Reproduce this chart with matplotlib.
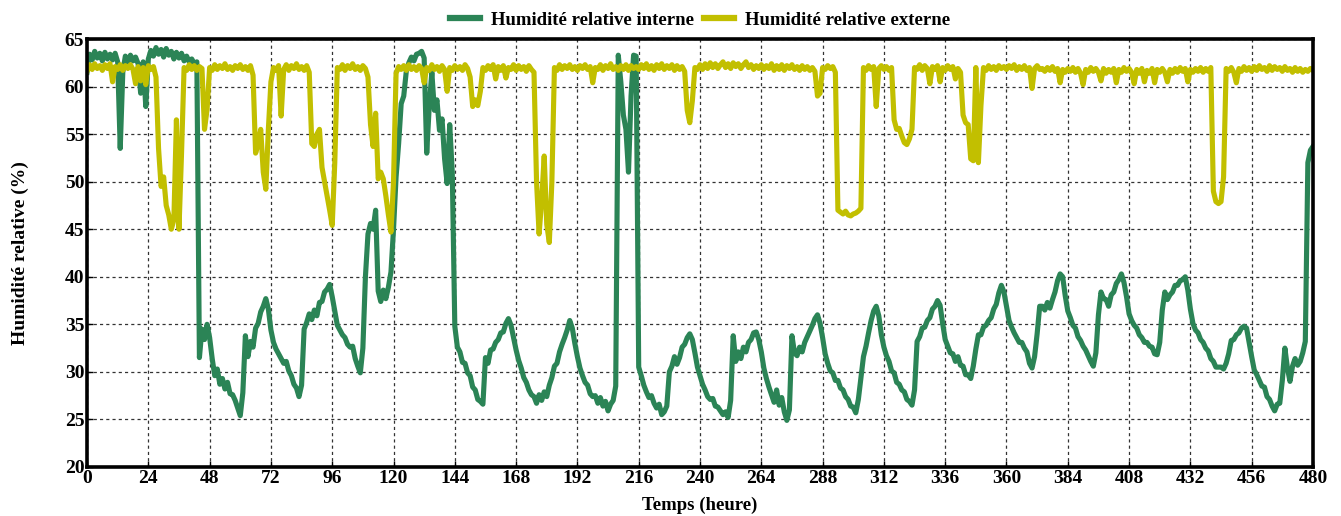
import numpy as np
import matplotlib
matplotlib.use("Agg")
import matplotlib.pyplot as plt

# Hourly relative humidity readings (%), one row per day (hours 0-23 of each day)
rh_interne = [
    61.5, 63.4, 62.8, 63.7, 63.0, 63.5, 62.7, 63.6, 62.9, 63.4, 62.8, 63.5, 62.6, 53.5, 61.5, 63.2, 62.6, 63.3, 62.7, 63.1, 62.4, 59.3, 62.6, 57.9,
    62.9, 63.8, 63.2, 64.1, 63.4, 63.9, 63.1, 64.0, 63.3, 63.7, 62.9, 63.6, 63.0, 63.5, 62.7, 63.2, 62.6, 62.9, 62.4, 62.6, 31.5, 34.5, 33.4, 35.0,
    33.6, 31.4, 29.6, 30.3, 28.7, 29.3, 28.2, 28.9, 27.7, 27.6, 27.0, 26.2, 25.4, 27.8, 33.8, 31.6, 33.2, 32.6, 34.6, 35.1, 36.3, 36.9, 37.7, 36.6,
    34.4, 33.1, 32.4, 31.9, 31.4, 30.9, 31.1, 30.1, 29.6, 28.7, 28.3, 27.4, 28.6, 34.5, 35.2, 36.1, 35.5, 36.5, 35.9, 37.3, 37.4, 38.4, 38.7, 39.2,
    37.9, 36.4, 34.9, 34.4, 33.9, 33.6, 32.9, 32.6, 32.7, 31.4, 30.6, 29.9, 32.5, 40.0, 44.5, 45.6, 45.0, 47.0, 38.5, 37.4, 38.6, 37.7, 38.9, 40.5,
    45.0, 50.5, 54.0, 58.2, 59.0, 61.6, 62.5, 63.1, 62.7, 63.4, 63.5, 63.7, 63.0, 53.0, 58.0, 61.5, 57.5, 58.6, 55.4, 56.6, 52.4, 49.8, 56.0, 51.0,
    34.8, 32.6, 32.1, 31.0, 30.9, 29.9, 29.6, 28.4, 28.1, 27.1, 26.9, 26.6, 31.5, 30.9, 32.3, 32.4, 33.1, 33.4, 34.1, 34.2, 35.1, 35.6, 34.9, 33.6,
    32.3, 31.2, 30.4, 29.4, 28.9, 28.1, 27.6, 27.4, 26.7, 27.6, 27.0, 27.9, 27.4, 28.6, 29.4, 30.6, 30.9, 32.1, 32.9, 33.6, 34.4, 35.4, 34.6, 33.0,
    31.6, 30.4, 29.6, 28.9, 28.6, 27.7, 27.4, 27.5, 26.7, 27.3, 26.4, 26.9, 25.9, 26.6, 27.0, 28.5, 63.3, 60.5, 57.0, 55.5, 51.0, 59.0, 63.3, 63.2,
    30.5, 29.6, 28.6, 27.9, 27.3, 27.5, 26.7, 26.2, 26.6, 25.5, 25.8, 26.4, 30.0, 30.6, 31.6, 30.8, 31.5, 32.6, 32.9, 33.6, 34.0, 33.4, 32.0, 30.5,
    29.6, 28.7, 28.1, 27.4, 27.1, 27.2, 26.4, 26.3, 25.9, 25.5, 25.8, 25.2, 27.0, 33.8, 31.1, 32.1, 31.4, 32.6, 32.1, 33.1, 33.4, 34.1, 34.2, 33.4,
    32.1, 30.4, 29.3, 28.4, 27.6, 26.8, 28.1, 26.5, 27.3, 25.8, 24.9, 26.0, 33.8, 32.0, 31.7, 32.6, 32.1, 33.1, 33.7, 34.3, 34.9, 35.6, 36.0, 35.1,
    33.6, 31.9, 30.9, 30.1, 29.9, 29.1, 29.1, 28.3, 28.1, 27.4, 27.1, 26.4, 26.3, 25.7, 27.1, 29.4, 31.6, 32.7, 34.1, 35.4, 36.4, 36.9, 35.9, 33.9,
    32.6, 31.7, 31.1, 30.1, 29.9, 28.9, 28.7, 28.1, 27.9, 27.1, 26.9, 26.5, 28.1, 33.2, 33.7, 34.6, 34.7, 35.4, 35.7, 36.6, 36.9, 37.5, 37.0, 35.1,
    33.4, 32.7, 32.0, 31.9, 31.1, 31.6, 30.7, 30.6, 29.7, 29.7, 29.3, 30.6, 32.4, 33.9, 33.9, 34.7, 34.9, 35.4, 35.7, 36.6, 37.1, 38.3, 39.1, 38.4,
    36.9, 35.4, 34.7, 34.1, 33.6, 33.1, 33.1, 32.5, 32.1, 30.9, 30.4, 31.6, 34.0, 36.9, 36.9, 36.5, 37.3, 36.7, 37.6, 38.4, 39.6, 40.3, 40.0, 38.0,
    36.4, 35.7, 34.9, 34.6, 33.7, 33.3, 32.7, 32.3, 31.7, 31.1, 30.6, 32.0, 36.0, 38.4, 37.7, 37.6, 36.9, 38.1, 38.4, 39.3, 39.7, 40.3, 39.4, 37.9,
    36.1, 35.4, 34.9, 34.6, 33.9, 33.6, 33.1, 33.1, 32.7, 32.6, 31.9, 31.8, 33.1, 36.5, 38.4, 37.6, 38.1, 38.4, 39.1, 39.1, 39.6, 39.7, 40.0, 38.6,
    36.6, 35.1, 34.4, 34.1, 33.4, 33.1, 32.5, 32.2, 31.4, 31.1, 30.5, 30.5, 30.5, 30.3, 30.9, 31.9, 33.3, 33.4, 33.9, 34.1, 34.6, 34.8, 34.6, 33.1,
    31.6, 30.2, 29.7, 29.1, 28.5, 28.4, 27.4, 27.1, 26.4, 25.9, 26.6, 26.7, 29.1, 32.5, 30.4, 29.0, 30.6, 31.4, 30.7, 31.1, 32.0, 33.2, 52.0, 53.3,
    53.7,
]

rh_externe = [
    61.6, 62.3, 61.8, 62.4, 61.9, 62.2, 61.7, 62.3, 61.9, 62.4, 60.5, 62.1, 61.8, 62.3, 61.7, 62.2, 61.9, 62.3, 61.8, 60.3, 62.1, 60.6, 62.0, 60.2,
    62.2, 61.8, 62.1, 61.0, 53.5, 49.5, 50.5, 47.5, 46.5, 45.0, 46.0, 56.5, 45.0, 53.0, 62.0, 61.7, 62.3, 61.8, 62.2, 61.7, 62.1, 61.9, 55.5, 57.6,
    62.0, 61.7, 62.3, 61.8, 62.2, 61.9, 62.4, 61.8, 62.1, 61.7, 62.2, 61.9, 62.3, 61.8, 62.1, 61.7, 62.2, 61.2, 53.0, 54.0, 55.5, 51.0, 49.2, 55.5,
    60.5, 62.0, 61.7, 62.2, 56.9, 61.8, 62.3, 61.7, 62.2, 61.9, 62.4, 61.8, 62.1, 61.7, 62.2, 61.5, 54.0, 53.7, 55.0, 55.5, 51.5, 50.0, 48.5, 47.0,
    45.4, 52.0, 62.0, 61.8, 62.3, 61.7, 62.2, 61.9, 62.4, 61.8, 62.1, 61.7, 62.2, 61.9, 61.0, 56.0, 53.7, 57.2, 50.3, 51.0, 50.3, 48.5, 46.5, 44.7,
    50.0, 61.4, 62.1, 61.8, 62.2, 61.7, 62.3, 61.8, 62.1, 61.7, 62.2, 61.9, 60.4, 62.0, 61.7, 62.3, 61.8, 62.1, 61.6, 62.2, 61.8, 59.5, 62.0, 61.7,
    62.2, 61.8, 62.1, 61.7, 62.3, 61.9, 61.0, 57.9, 58.6, 58.0, 59.5, 62.0, 61.7, 62.2, 61.8, 62.3, 60.8, 62.1, 61.7, 62.2, 60.9, 62.0, 61.8, 62.3,
    61.7, 62.2, 61.8, 62.1, 61.6, 62.2, 61.8, 61.5, 50.0, 44.5, 48.0, 52.7, 45.5, 43.6, 50.0, 62.0, 61.7, 62.3, 61.8, 62.2, 61.9, 62.3, 61.8, 62.1,
    61.7, 62.2, 61.9, 62.3, 61.8, 62.1, 60.4, 62.0, 61.8, 62.3, 61.7, 62.2, 61.9, 62.4, 61.8, 62.1, 61.7, 62.2, 61.8, 62.3, 61.7, 62.2, 61.9, 62.1,
    61.8, 62.3, 61.9, 62.4, 61.8, 62.2, 61.7, 62.3, 61.9, 62.4, 61.8, 62.2, 61.9, 62.3, 61.7, 62.2, 61.8, 62.1, 61.6, 57.5, 56.2, 58.5, 62.0, 61.8,
    62.3, 61.8, 62.4, 61.9, 62.5, 62.0, 62.4, 61.9, 62.3, 62.6, 62.0, 62.4, 61.9, 62.5, 62.1, 62.4, 61.9, 62.3, 62.6, 62.0, 62.3, 61.8, 62.2, 61.9,
    62.3, 61.8, 62.2, 61.9, 62.4, 61.7, 62.2, 61.8, 62.3, 61.7, 62.2, 61.9, 62.3, 61.8, 62.1, 61.7, 62.2, 61.8, 62.1, 61.7, 62.0, 61.6, 59.0, 59.3,
    62.0, 61.8, 62.2, 61.9, 62.1, 61.5, 47.0, 46.8, 46.6, 46.9, 46.5, 46.4, 46.6, 46.7, 46.9, 47.2, 62.0, 61.7, 62.2, 61.8, 62.1, 57.9, 61.9, 62.2,
    61.8, 62.1, 61.7, 62.0, 56.5, 55.5, 55.6, 54.8, 54.1, 53.9, 54.5, 55.5, 62.0, 61.8, 62.3, 61.7, 62.2, 61.9, 60.3, 62.1, 61.8, 62.2, 60.5, 62.0,
    61.7, 62.2, 61.8, 62.1, 60.8, 61.9, 61.5, 57.0, 56.2, 56.0, 52.4, 52.2, 62.0, 52.0, 58.0, 62.0, 61.7, 62.2, 61.8, 62.1, 61.7, 62.2, 61.9, 62.1,
    61.8, 62.2, 61.9, 62.3, 61.7, 62.1, 61.8, 62.2, 61.7, 62.0, 59.8, 61.9, 62.2, 61.8, 61.9, 61.6, 62.0, 61.7, 62.1, 61.6, 61.9, 60.4, 61.8, 61.5,
    61.9, 61.6, 62.0, 61.5, 61.9, 61.4, 60.2, 61.8, 61.5, 62.0, 61.6, 61.9, 61.5, 60.6, 61.9, 61.4, 61.8, 61.5, 61.9, 60.4, 61.8, 61.5, 62.0, 61.6,
    61.9, 61.5, 60.3, 61.8, 61.4, 61.9, 60.5, 61.7, 61.4, 61.9, 60.4, 61.8, 61.5, 61.9, 61.5, 60.5, 61.8, 61.4, 61.9, 61.5, 62.0, 61.6, 61.9, 60.5,
    61.8, 61.5, 61.9, 61.6, 62.0, 61.5, 61.9, 61.6, 62.0, 49.0, 47.9, 47.7, 47.9, 50.5, 61.9, 61.6, 62.0, 61.5, 60.4, 61.9, 61.6, 62.1, 61.7, 62.0,
    61.6, 62.1, 61.7, 62.2, 61.8, 62.0, 61.6, 62.2, 61.7, 62.1, 61.8, 62.0, 61.6, 62.1, 61.7, 61.9, 61.5, 62.0, 61.6, 61.9, 61.5, 61.8, 61.6, 61.9,
    61.7,
]

hours = np.arange(len(rh_interne))
x_ticks = list(range(0, 481, 24))
y_ticks = list(range(20, 66, 5))

label_interne = "Humidité relative interne"
label_externe = "Humidité relative externe"
x_title = "Temps (heure)"
y_title = "Humidité relative (%)"

green = "#2B8456"
yellow = "#C2BF00"

plt.rcParams["font.family"] = ["Liberation Serif", "DejaVu Serif"]
plt.rcParams["font.weight"] = "bold"

fig = plt.figure(figsize=(13.41, 5.16), dpi=100)
ax = fig.add_axes([0.0649, 0.095, 0.9142, 0.8294])

ax.plot(hours, rh_interne, color=green, lw=3.7, solid_joinstyle="round",
        label=label_interne, zorder=3)
ax.plot(np.arange(len(rh_externe)), rh_externe, color=yellow, lw=3.7,
        solid_joinstyle="round", label=label_externe, zorder=4)

ax.set_xlim(0, 480)
ax.set_ylim(20, 65)
ax.set_xticks(x_ticks)
ax.set_yticks(y_ticks)
ax.tick_params(axis="both", direction="in", length=4, width=1,
               labelsize=14, pad=2)
for lab in ax.get_xticklabels() + ax.get_yticklabels():
    lab.set_fontweight("bold")

ax.grid(True, color="#333333", linestyle=(0, (2.5, 2.5)), linewidth=0.9)
ax.set_axisbelow(True)
for sp in ax.spines.values():
    sp.set_linewidth(2.6)
    sp.set_color("black")
    sp.set_zorder(6)

ax.set_xlabel(x_title, fontsize=13.5, fontweight="bold", labelpad=7)
ax.set_ylabel(y_title, fontsize=14, fontweight="bold", labelpad=26)

leg = ax.legend(loc="lower center", bbox_to_anchor=(0.5, 1.0), ncol=2,
                frameon=False, fontsize=13.5, handlelength=1.6,
                handletextpad=0.6, columnspacing=0.5, borderaxespad=0.15)
for line in leg.get_lines():
    line.set_linewidth(4.5)
for t in leg.get_texts():
    t.set_fontweight("bold")

fig.savefig("out.png", dpi=100)
